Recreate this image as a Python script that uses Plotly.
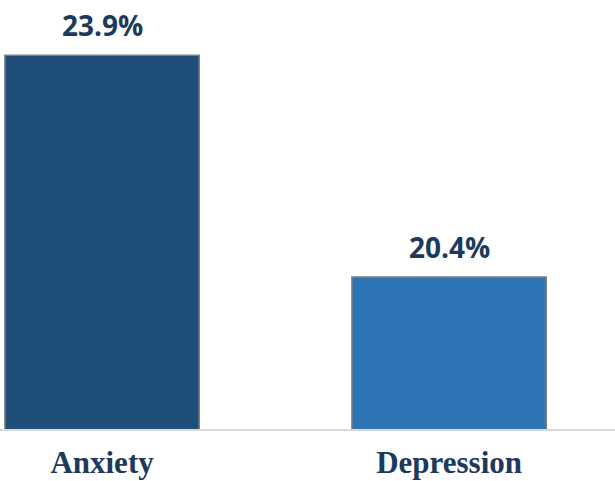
import plotly.graph_objects as go

categories = ["Anxiety", "Depression"]
values = [23.9, 20.4]
labels = ["23.9%", "20.4%"]
colors = ["#1F4E79", "#2E75B6"]

fig = go.Figure(go.Bar(
    x=[0, 1], y=values,
    marker=dict(color=colors, line=dict(color="#7F7F7F", width=1.5)),
    width=0.56, cliponaxis=False,
))
for i, (v, t) in enumerate(zip(values, labels)):
    fig.add_annotation(x=i, y=v, text=t, showarrow=False, yanchor="bottom", yshift=9,
                       font=dict(family="Open Sans", size=28, color="#1B3A5C", weight="bold"))
fig.update_layout(
    width=615, height=481, margin=dict(l=0, r=0, t=0, b=52),
    plot_bgcolor="white", paper_bgcolor="white", showlegend=False,
    xaxis=dict(range=[-0.294, 1.478], tickvals=[0, 1], ticktext=categories,
               showline=True, linecolor="#D9D9D9", linewidth=2, showgrid=False,
               ticks="", zeroline=False, ticklabelstandoff=5, automargin=False,
               tickfont=dict(family="Liberation Serif", size=31, color="#1B3A5C", weight="bold")),
    yaxis=dict(range=[18, 24.77], visible=False, automargin=False),
)
fig.write_html("out.html")
